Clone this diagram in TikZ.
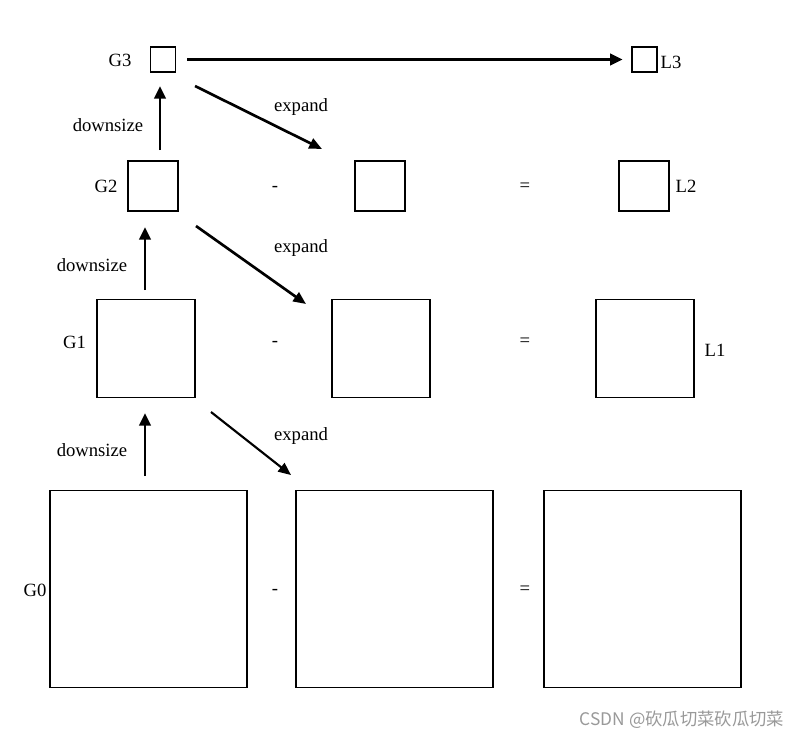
\documentclass[tikz,border=0pt]{standalone}
\usepackage{fontspec}
\setmainfont{Liberation Serif}
\newfontfamily\wmfont{Noto Sans CJK SC}
\usetikzlibrary{arrows.meta}
\definecolor{color_wm}{rgb}{0.6,0.6,0.6}
\tikzset{
  pbox/.style={draw, line width=0.9pt, inner sep=0pt, minimum size=#1},
  lbl/.style={font=\fontsize{14}{16}\selectfont, inner sep=0pt},
  uparr/.style={line width=2.2pt, -{Triangle[length=9.5pt,width=8.5pt]}},
  exparr/.style={line width=2pt, -{Triangle[length=9.5pt,width=8pt]}}
}
\begin{document}
\begin{tikzpicture}[x=0.75pt, y=-0.75pt]
  \useasboundingbox (0,0) rectangle (802,740);
  \fill[white] (0,0) rectangle (802,740);

  % boxes of the pyramid
  \node[pbox=18.75pt] (g3) at (163,59.5) {};
  \node[pbox=18.75pt] (l3) at (644.5,59.5) {};
  \node[pbox=37.5pt] (g2) at (153,186) {};
  \node[pbox=37.5pt] (m2) at (380,186) {};
  \node[pbox=37.5pt] (l2) at (644,186) {};
  \node[pbox=73.5pt] (g1) at (146,348.5) {};
  \node[pbox=73.5pt] (m1) at (381,348.5) {};
  \node[pbox=73.5pt] (l1) at (645,348.5) {};
  \node[pbox=147.75pt] (g0) at (148.5,589) {};
  \node[pbox=147.75pt] (m0) at (394.5,589) {};
  \node[pbox=147.75pt] (r0) at (642.5,589) {};

  % names
  \node[lbl] (tg3) at (120,60) {G3};
  \node[lbl] (tl3) at (671,62) {L3};
  \node[lbl] (tg2) at (106,186) {G2};
  \node[lbl] (tl2) at (686,186) {L2};
  \node[lbl] (tg1) at (74.5,342) {G1};
  \node[lbl] (tl1) at (715,350) {L1};
  \node[lbl] (tg0) at (35,590) {G0};

  % minus and equal signs
  \foreach \yy/\nm in {187/a,342/b,590/c}{
    \node[lbl] (minus\nm) at (275,\yy+2) {-};
    \node[lbl] (eq\nm) at (525,\yy) {=};
  }

  % arrow ends
  \coordinate (u0s) at (145,476);
  \coordinate (u0e) at (145,413);
  \coordinate (u1s) at (145,290);
  \coordinate (u1e) at (145,227);
  \coordinate (u2s) at (160,150);
  \coordinate (u2e) at (160,86);
  \coordinate (e3s) at (195,86);
  \coordinate (e3e) at (322,149);
  \coordinate (e2s) at (196,226);
  \coordinate (e2e) at (306,304);
  \coordinate (e1s) at (211,412);
  \coordinate (e1e) at (291,475);

  % downsize
  \draw[uparr] (u0s) -- (u0e);
  \draw[uparr] (u1s) -- (u1e);
  \draw[uparr] (u2s) -- (u2e);
  \node[lbl] (d0) at (92,450) {downsize};
  \node[lbl] (d1) at (92,265) {downsize};
  \node[lbl] (d2) at (108,125) {downsize};

  % expand
  \draw[exparr] (e3s) -- (e3e);
  \draw[exparr] (e2s) -- (e2e);
  \draw[exparr, line width=1.6pt] (e1s) -- (e1e);
  \node[lbl] (x3) at (301,107) {expand};
  \node[lbl] (x2) at (301,248) {expand};
  \node[lbl] (x1) at (301,436) {expand};

  % top level copied across
  \draw[uparr] ([xshift=8.5pt]g3.east) -- ([xshift=-6.5pt]l3.west);

  % watermark
  \node[font=\wmfont\fontsize{13}{15}\selectfont, text=color_wm, inner sep=0pt] (wm) at (682,720) {CSDN @砍瓜切菜砍瓜切菜};
\end{tikzpicture}
\end{document}
